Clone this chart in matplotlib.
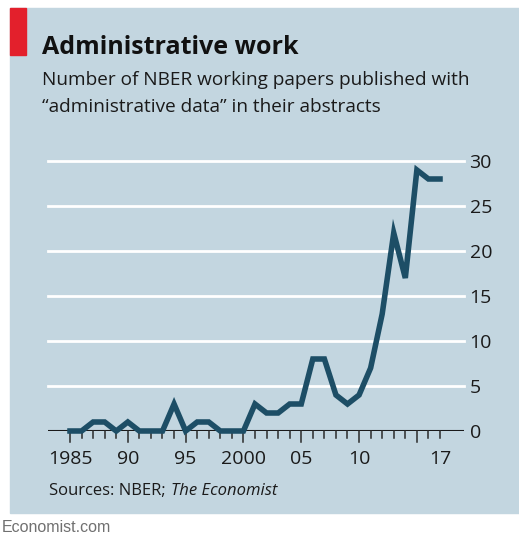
import matplotlib.pyplot as plt
from matplotlib.patches import Rectangle

years = list(range(1985, 2018))
papers = [0, 0, 1, 1, 0, 1, 0, 0, 0, 3, 0, 1, 1, 0, 0, 0,
          3, 2, 2, 3, 3, 8, 8, 4, 3, 4, 7, 13, 22, 17, 29, 28, 28]
xtick_pos = [1985, 1990, 1995, 2000, 2005, 2010, 2017]
xtick_labels = ["1985", "90", "95", "2000", "05", "10", "17"]
ytick_pos = [0, 5, 10, 15, 20, 25, 30]

W, H = 519, 538
bg = "#c3d6e0"
line_col = "#1d4e66"
plt.rcParams['font.family'] = ['Open Sans', 'DejaVu Sans']

fig = plt.figure(figsize=(W / 100, H / 100), dpi=100)
fig.patch.set_facecolor("white")

# background panel and red tag
fig.patches.append(Rectangle((10 / W, (H - 513) / H), (W - 10) / W, (513 - 8) / H,
                             transform=fig.transFigure, color=bg, zorder=-2))
fig.patches.append(Rectangle((10 / W, (H - 55) / H), 16 / W, 47 / H,
                             transform=fig.transFigure, color="#e3202c", zorder=-1))

ax = fig.add_axes([48 / W, (H - 431) / H, (464 - 48) / W, (431 - 161) / H])
ax.set_facecolor("none")
ax.set_xlim(1985 - 22 / 11.5625, 2017 + 24 / 11.5625)
ax.set_ylim(0, 30)

for v in ytick_pos[1:]:
    ax.axhline(v, color="white", lw=2, zorder=1, clip_on=False)
ax.axhline(0, color="#1a1a1a", lw=1.5, zorder=2)

ax.plot(years, papers, color=line_col, lw=4, zorder=3, clip_on=False,
        solid_joinstyle="miter")

for s in ax.spines.values():
    s.set_visible(False)

# year ticks below the baseline
for y in years:
    length = 11 if (y - 1985) % 5 == 0 else 7
    ax.plot([y, y], [0, -length / 9.0], color="#2a2a2a", lw=1.1,
            clip_on=False, zorder=2)

ax.set_xticks(xtick_pos)
ax.set_xticklabels(xtick_labels)
ax.tick_params(axis="x", length=0, pad=14, labelsize=14, colors="#1a1a1a")
ax.yaxis.tick_right()
ax.set_yticks(ytick_pos)
ax.tick_params(axis="y", length=0, pad=4, labelsize=14, colors="#1a1a1a")
for lab in ax.get_yticklabels():
    lab.set_horizontalalignment("left")

fig.text(42 / W, 1 - 47 / H, "Administrative work", fontsize=18,
         fontweight="bold", va="center", ha="left", color="#111111")
fig.text(42 / W, 1 - 80 / H, "Number of NBER working papers published with",
         fontsize=13.7, va="center", ha="left", color="#1a1a1a")
fig.text(42 / W, 1 - 107 / H, "\u201cadministrative data\u201d in their abstracts",
         fontsize=13.7, va="center", ha="left", color="#1a1a1a")
src = fig.text(49 / W, 1 - 491 / H, "Sources: NBER; ", fontsize=12, va="center",
               ha="left", color="#1a1a1a")
fig.canvas.draw()
bb = src.get_window_extent()
fig.text(bb.x1 / W + 1 / W, 1 - 491 / H, "The Economist", fontsize=12, va="center",
         ha="left", style="italic", color="#1a1a1a")
fig.text(2 / W, 1 - 527 / H, "Economist.com", fontsize=11.5, va="center",
         ha="left", color="#707070", family="Liberation Sans")

fig.savefig("out.png", dpi=100, facecolor=fig.get_facecolor())
